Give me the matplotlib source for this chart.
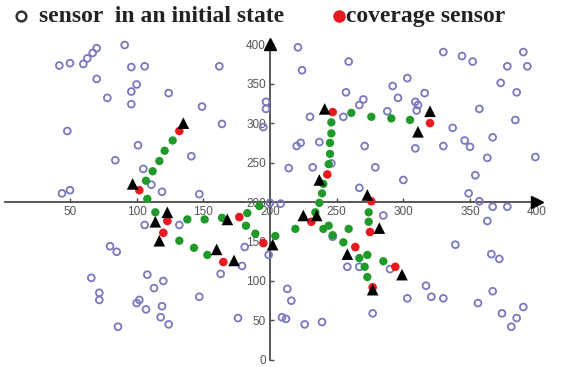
import matplotlib
matplotlib.use("Agg")
import matplotlib.pyplot as plt

# ---- data ----
circle_x = [42, 50, 60, 63, 67, 70, 91, 96, 106, 162, 70, 100, 96, 124, 78, 96, 149, 197, 197,
            48, 164, 195, 101, 84, 141, 105, 111, 119, 44, 50, 147, 214, 221, 224, 259, 330, 344,
            352, 390, 378, 393, 303, 292, 257, 316, 373, 385, 270, 267, 296, 309, 311, 288, 310,
            357, 230, 255, 384, 337, 346, 350, 367, 220, 223, 237, 271, 309, 330, 363, 399, 232,
            246, 279, 300, 354, 267, 349, 357, 200, 208,
            106, 132, 80, 85, 181, 199, 179, 163, 66, 108, 120, 113, 213, 72, 72, 147, 100, 102,
            107, 119, 216, 118, 124, 86, 176, 209, 212, 367, 378, 363, 285, 339, 366, 372, 258,
            267, 290, 247, 226, 239, 277, 303, 317, 321, 330, 356, 367, 374, 390, 385, 381]
circle_y = [373, 376, 375, 382, 389, 395, 399, 371, 372, 372, 356, 349, 340, 338, 332, 324, 321, 327, 318,
            290, 299, 295, 272, 253, 258, 242, 222, 213, 211, 215, 210, 243, 396, 367, 378, 390, 385,
            378, 390, 372, 372, 357, 347, 339, 338, 351, 339, 330, 323, 332, 327, 323, 315, 316,
            318, 308, 308, 304, 294, 278, 270, 282, 271, 275, 276, 271, 268, 271, 256, 257, 244,
            249, 244, 228, 234, 218, 211, 201, 199, 198,
            171, 171, 144, 137, 143, 133, 119, 109, 104, 108, 100, 91, 90, 85, 76, 80, 72, 76,
            64, 68, 75, 54, 45, 42, 53, 54, 52, 194, 194, 176, 183, 146, 134, 128, 118,
            118, 115, 156, 45, 48, 59, 78, 94, 80, 78, 72, 87, 59, 67, 53, 42]

red_x = [132, 102, 123, 177, 120, 165, 195, 247, 320, 243, 276, 231, 275, 264, 294, 277]
red_y = [290, 215, 176, 181, 161, 124, 148, 314, 300, 235, 201, 175, 162, 143, 118, 92]

tri_x = [135, 97, 123, 114, 168, 117, 160, 173, 202, 241, 320, 311, 237, 225, 235, 273, 282, 258, 299, 277]
tri_y = [300, 223, 187, 175, 178, 151, 140, 126, 146, 318, 315, 289, 228, 183, 183, 209, 167, 134, 108, 89]

green_x = [127, 121, 117, 112, 107, 108, 114, 138, 151, 164, 183, 192, 182, 189, 204, 219, 132, 143, 153,
           234, 237, 239, 240, 244, 245, 245, 246, 246, 261, 276, 291, 305, 274, 274, 240, 244, 247,
           255, 259, 267, 273, 285, 271, 273]
green_y = [278, 265, 252, 239, 227, 204, 187, 178, 178, 180, 186, 195, 170, 160, 157, 166, 151, 142, 133,
           187, 199, 211, 223, 248, 261, 275, 287, 301, 313, 308, 306, 304, 187, 175, 166, 170, 158,
           149, 166, 129, 133, 125, 118, 105]

xticks = [50, 100, 150, 200, 250, 300, 350, 400]
yticks = [0, 50, 100, 150, 200, 250, 300, 350, 400]
legend_labels = ["sensor  in an initial state", "coverage sensor"]

# ---- figure ----
fig = plt.figure(figsize=(5.86, 3.67), dpi=100)
ax = fig.add_axes([0, 0, 1, 1])
ax.set_xlim(-2.5, 437)
ax.set_ylim(-9, 456)

axis_col = "#4a4a4a"
for s in ["top", "right"]:
    ax.spines[s].set_visible(False)
ax.spines["left"].set_position(("data", 200))
ax.spines["bottom"].set_position(("data", 200))
ax.spines["left"].set_bounds(0, 400)
ax.spines["bottom"].set_bounds(1, 400)
for s in ["left", "bottom"]:
    ax.spines[s].set_color(axis_col)
    ax.spines[s].set_linewidth(1.3)
    ax.spines[s].set_zorder(1)

ax.set_xticks(xticks)
ax.set_yticks(yticks)
ax.set_xticklabels([str(v) for v in xticks])
ax.set_yticklabels([str(v) for v in yticks])
ax.tick_params(axis="both", direction="in", length=3, width=1, color=axis_col,
               labelcolor="#555555", labelsize=8.5, pad=3)
for lab in ax.get_xticklabels() + ax.get_yticklabels():
    lab.set_family("Liberation Sans")

# axis arrow heads
ax.plot([400], [200], marker=">", color="black", markersize=9, clip_on=False, zorder=2)
ax.plot([200], [400], marker="^", color="black", markersize=9, clip_on=False, zorder=2)

# data marks
ax.scatter(circle_x, circle_y, s=24, facecolors="none", edgecolors="#7878bd",
           linewidths=1.3, zorder=3)
ax.scatter(green_x, green_y, s=36, color="#1f9a2a", edgecolors="none", zorder=4)
ax.scatter(red_x, red_y, s=38, color="#e8191f", edgecolors="none", zorder=5)
ax.scatter(tri_x, tri_y, s=70, marker="^", color="black", edgecolors="none", zorder=6)

# legend-like header
ax.plot([0.036], [0.957], marker="o", markerfacecolor="none", markeredgecolor="#333333",
        markeredgewidth=1.8, markersize=7, transform=fig.transFigure, clip_on=False)
fig.text(0.066, 0.955, legend_labels[0], fontsize=17, family="Liberation Serif",
         weight="bold", color="#222222", ha="left", va="center")
ax.plot([0.578], [0.957], marker="o", color="#e8191f", markersize=8,
        transform=fig.transFigure, clip_on=False)
fig.text(0.590, 0.955, legend_labels[1], fontsize=17, family="Liberation Serif",
         weight="bold", color="#222222", ha="left", va="center")

fig.savefig("out.png", dpi=100)
